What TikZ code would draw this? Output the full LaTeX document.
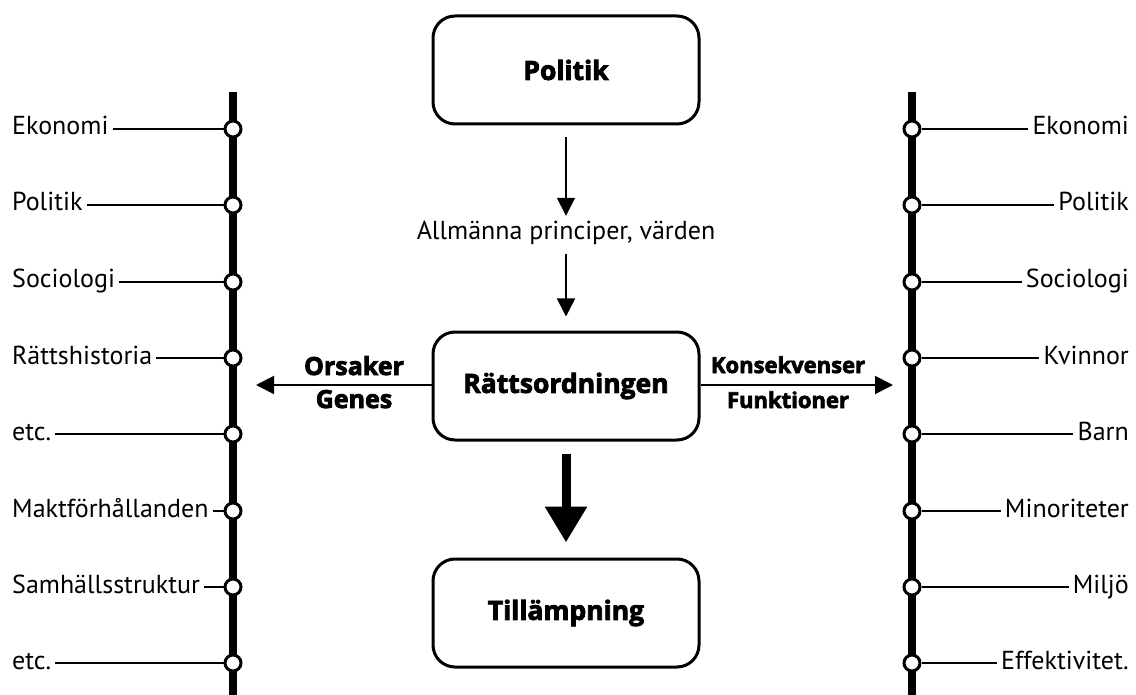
\documentclass[tikz,border=0pt]{standalone}
\usepackage{fontspec}
\setmainfont{PT Sans}
\newfontfamily\heavy{Open Sans}[BoldFeatures={FakeBold=3}]
\usetikzlibrary{arrows.meta,positioning,calc}

\begin{document}
\begin{tikzpicture}[x=1pt,y=-1pt,>={Triangle[length=18pt,width=18pt]},
  box/.style={draw,line width=3pt,rounded corners=22pt,minimum width=266pt,minimum height=108pt,font=\fontsize{26.5}{30}\heavy\bfseries},
  lab/.style={font=\fontsize{26}{29}\selectfont,inner sep=4pt,text height=18pt,text depth=6pt},
  dot/.style={circle,draw,fill=white,line width=3pt,inner sep=0pt,minimum size=16pt},
  side/.style={font=\fontsize{25}{28}\heavy\bfseries,inner sep=2pt,anchor=base}]
\useasboundingbox (0,0) rectangle (1136,695);
\node[box] (pol) at (566,70) {Politik};
\node[lab] (princ) at (566,234) {Allmänna principer, värden};
\node[box] (ratt) at (566,386) {Rättsordningen};
\node[box] (till) at (566,613) {Tillämpning};
\draw[->,line width=1.6pt,shorten <=12pt,shorten >=2pt] (pol) -- (princ);
\draw[->,line width=1.6pt,shorten <=4pt,shorten >=14pt] (princ) -- (ratt);
\draw[-{Triangle[length=36pt,width=40pt]},line width=9pt,shorten <=12pt,shorten >=15pt] (ratt) -- (till);
% sidopilar
\coordinate (vp) at (256,385);\coordinate (hp) at (893,385);
\draw[->,line width=2pt] (ratt.west|-vp) -- (vp);
\draw[->,line width=2pt] (ratt.east|-hp) -- (hp);
\node[side] (ors) at (354,375) {Orsaker};
\node[side] (gen) at (354,408) {Genes};
\node[side,font=\fontsize{22}{26}\heavy\bfseries] (kons) at (788,373) {Konsekvenser};
\node[side,font=\fontsize{22}{26}\heavy\bfseries] (funk) at (788,408) {Funktioner};
% vänster
\draw[line width=8pt] (233,92) -- (233,695);
\foreach \t/\y [count=\i] in {Ekonomi/129,Politik/205,Sociologi/282,Rättshistoria/358,etc./434,Maktförhållanden/511,Samhällsstruktur/587,etc./663}{
  \node[lab,anchor=west] (l\i) at (8,\y) {\t};
  \node[dot] (ld\i) at (233,\y) {};
  \draw[line width=1.6pt] (l\i) -- (ld\i);}
% höger
\draw[line width=8pt] (912,92) -- (912,695);
\foreach \t/\y [count=\i] in {Ekonomi/129,Politik/205,Sociologi/282,Kvinnor/358,Barn/434,Minoriteter/511,Miljö/587,Effektivitet./663}{
  \node[lab,anchor=east] (r\i) at (1133,\y) {\t};
  \node[dot] (rd\i) at (912,\y) {};
  \draw[line width=1.6pt] (rd\i) -- (r\i);}
\end{tikzpicture}
\end{document}
